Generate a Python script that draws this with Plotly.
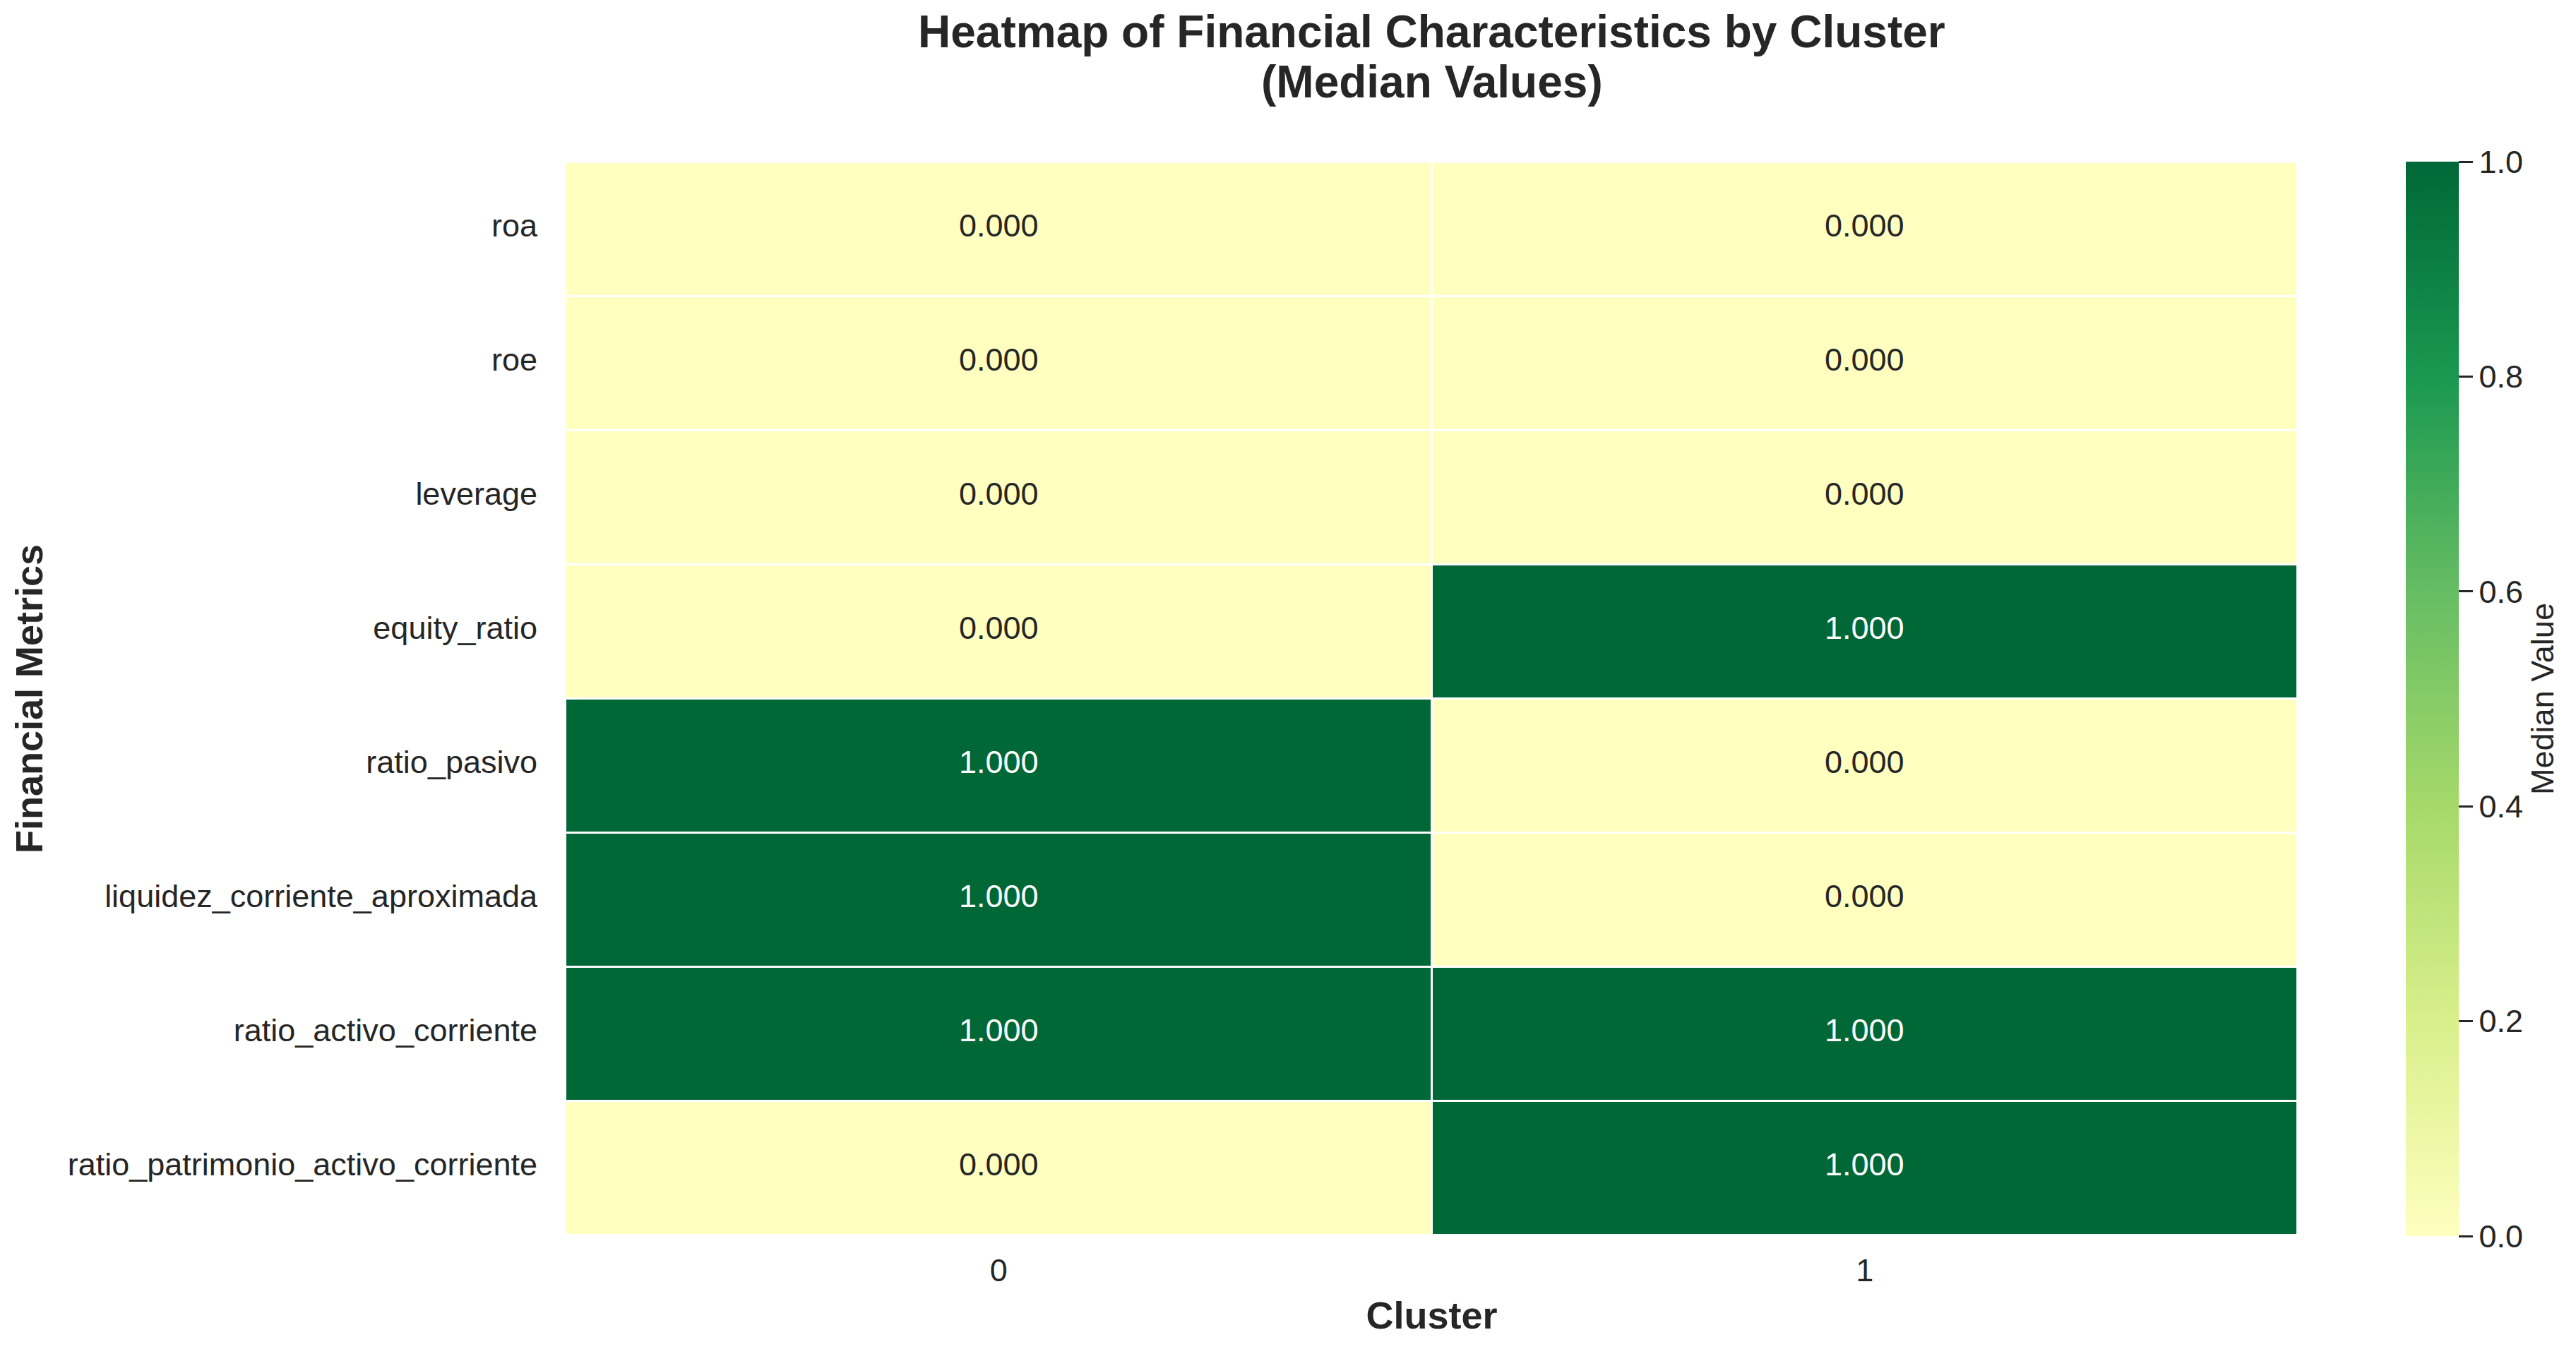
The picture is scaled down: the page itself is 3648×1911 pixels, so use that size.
import plotly.graph_objects as go

metrics = ["roa", "roe", "leverage", "equity_ratio", "ratio_pasivo",
           "liquidez_corriente_aproximada", "ratio_activo_corriente",
           "ratio_patrimonio_activo_corriente"]
clusters = ["0", "1"]
cluster0 = [0, 0, 0, 0, 1, 1, 1, 0]
cluster1 = [0, 0, 0, 1, 0, 0, 1, 1]
cbar_ticks = [0.0, 0.2, 0.4, 0.6, 0.8, 1.0]

z = [[a, b] for a, b in zip(cluster0, cluster1)]

colorscale = [[0.0, "#ffffbf"], [0.2, "#d9ef8b"], [0.4, "#a6d96a"],
              [0.6, "#66bd63"], [0.8, "#1a9850"], [1.0, "#006837"]]

FONT = "Liberation Sans, Arial, sans-serif"
DARK = "#262626"

W, H = 3648, 1911
L, R, T, B = 800.5, 393.5, 229.5, 160.5
plot_h = H - T - B
plot_w = W - L - R

fig = go.Figure(go.Heatmap(
    z=z, x=clusters, y=metrics, zmin=0, zmax=1,
    colorscale=colorscale, xgap=3, ygap=3,
    colorbar=dict(
        thickness=75, len=1522, lenmode="pixels",
        x=(3408 - L) / plot_w, xanchor="left",
        xpad=0, ypad=0, y=0.5, yanchor="middle", outlinewidth=0,
        tickvals=cbar_ticks,
        ticktext=[f"{t:.1f}" for t in cbar_ticks],
        ticks="outside", ticklen=20, tickwidth=2.5, tickcolor=DARK,
        tickfont=dict(size=45, color=DARK, family=FONT),
        title=dict(text="Median Value", side="right",
                   font=dict(size=45, color=DARK, family=FONT)),
    ),
    hoverinfo="skip",
))

annotations = []
for i, m in enumerate(metrics):
    for j, c in enumerate(clusters):
        v = z[i][j]
        annotations.append(dict(
            x=c, y=m, xref="x", yref="y", text=f"{v:.3f}", showarrow=False,
            yshift=6,
            font=dict(size=45, family=FONT, color="white" if v > 0.5 else DARK)))

for txt, ypx in [("<b>Heatmap of Financial Characteristics by Cluster</b>", 44),
                 ("<b>(Median Values)</b>", 115)]:
    annotations.append(dict(
        x=0.5, y=1 + (T - ypx) / plot_h, xref="paper", yref="paper",
        text=txt, showarrow=False, xanchor="center", yanchor="middle",
        font=dict(size=64, family=FONT, color=DARK)))

fig.update_layout(
    width=W, height=H,
    margin=dict(l=L, r=R, t=T, b=B),
    paper_bgcolor="white", plot_bgcolor="white",
    font=dict(family=FONT, color=DARK),
    annotations=annotations,
    xaxis=dict(type="category", showgrid=False, zeroline=False, ticks="",
               tickfont=dict(size=45, color=DARK, family=FONT),
               ticklabelstandoff=19,
               title=dict(text="<b>Cluster</b>", standoff=20,
                          font=dict(size=54, color=DARK, family=FONT))),
    yaxis=dict(type="category", autorange="reversed", showgrid=False,
               zeroline=False, ticks="",
               tickfont=dict(size=45, color=DARK, family=FONT),
               ticklabelstandoff=39, ticklabelshift=6,
               title=dict(text="<b>Financial Metrics</b>", standoff=17,
                          font=dict(size=54, color=DARK, family=FONT))),
)

fig.write_html("out.html", config={"displayModeBar": False},
               post_script="document.body.style.margin='0';document.body.style.padding='0';")
